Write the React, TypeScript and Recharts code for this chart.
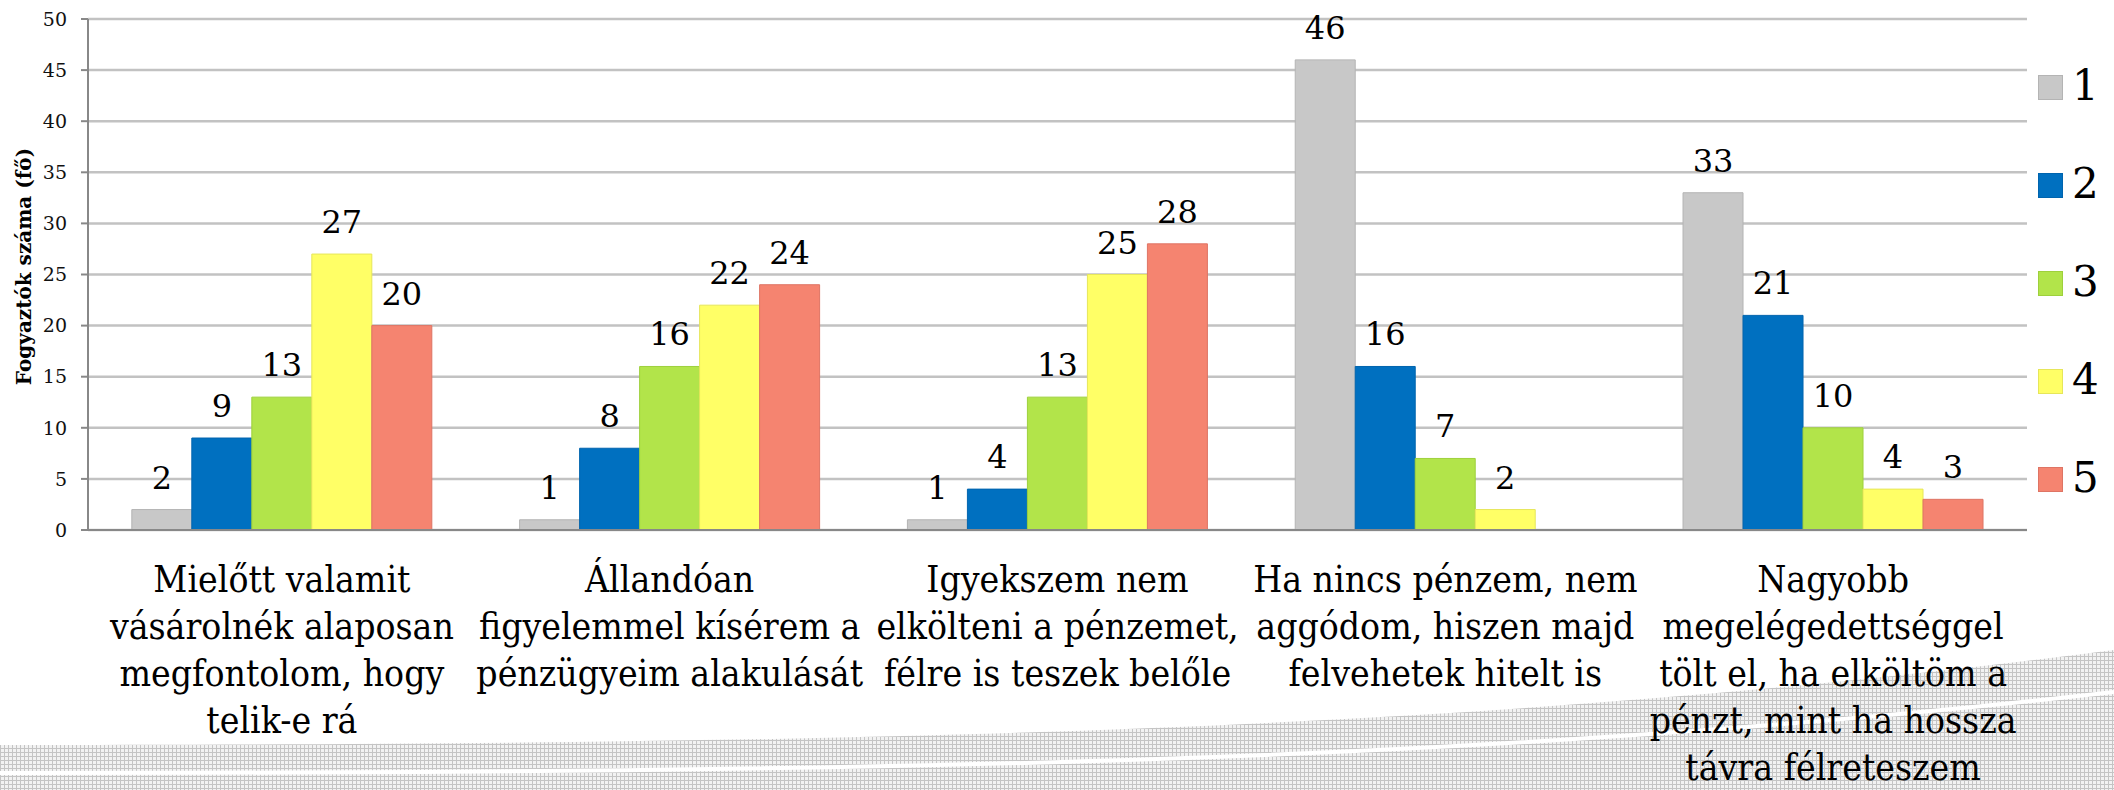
import React from 'react';
import { BarChart, Bar, XAxis, YAxis, CartesianGrid, LabelList } from 'recharts';

const categories: string[] = [
  'Mielőtt valamit\nvásárolnék alaposan\nmegfontolom, hogy\ntelik-e rá',
  'Állandóan\nfigyelemmel kísérem a\npénzügyeim alakulását',
  'Igyekszem nem\nelkölteni a pénzemet,\nfélre is teszek belőle',
  'Ha nincs pénzem, nem\naggódom, hiszen majd\nfelvehetek hitelt is',
  'Nagyobb\nmegelégedettséggel\ntölt el, ha elköltöm a\npénzt, mint ha hossza\ntávra félreteszem',
];

const series1: number[] = [2, 1, 1, 46, 33];
const series2: number[] = [9, 8, 4, 16, 21];
const series3: number[] = [13, 16, 13, 7, 10];
const series4: number[] = [27, 22, 25, 2, 4];
const series5: number[] = [20, 24, 28, 0, 3];

const seriesNames: string[] = ['1', '2', '3', '4', '5'];
const seriesKeys: string[] = ['s1', 's2', 's3', 's4', 's5'];
const seriesColors: string[] = ['#C8C8C8', '#0070C0', '#B2E44A', '#FFFF66', '#F58470'];
const seriesStrokes: string[] = ['#B4B4B4', '#0064AE', '#9ED03C', '#E6E65A', '#DE7464'];

const yTicks: number[] = [0, 5, 10, 15, 20, 25, 30, 35, 40, 45, 50];
const yTitle = 'Fogyaztók száma (fő)';

const data = categories.map((name, i) => ({
  name,
  s1: series1[i],
  s2: series2[i],
  s3: series3[i],
  s4: series4[i],
  s5: series5[i],
}));

const SERIF = "'DejaVu Serif'";
const SERIF_COND = "'DejaVu Serif Condensed', 'DejaVu Serif'";

const XTick = (props: any) => {
  const { x, y, payload } = props;
  const lines = String(payload.value).split('\n');
  return (
    <g>
      <text
        x={x}
        y={y}
        textAnchor="middle"
        fontFamily={SERIF_COND}
        style={{ fontStretch: 'condensed' }}
        fontSize={37}
        fill="#000"
      >
        {lines.map((ln, i) => (
          <tspan key={i} x={x} y={y + 62 + i * 47}>
            {ln}
          </tspan>
        ))}
      </text>
    </g>
  );
};

const YTitle = (props: any) => {
  const vb = props.viewBox || { x: 0, y: 19, width: 88, height: 511 };
  const cx = vb.x + 24;
  const cy = vb.y + vb.height / 2 - 8;
  return (
    <text
      x={cx}
      y={cy}
      transform={`rotate(-90 ${cx} ${cy})`}
      textAnchor="middle"
      dominantBaseline="central"
      fontFamily={SERIF}
      fontWeight="bold"
      fontSize={20}
      fill="#000"
    >
      {yTitle}
    </text>
  );
};

const labelFormatter = (v: any) => (v === 0 || v === null || v === undefined ? '' : v);

const Background = () => (
  <svg width={2114} height={790} style={{ position: 'absolute', left: 0, top: 0 }}>
    <defs>
      <pattern id="dots" width="4" height="4" patternUnits="userSpaceOnUse">
        <rect x="0" y="0" width="4" height="4" fill="#f2f2f2" />
        <rect x="0" y="0" width="4" height="1" fill="#c4c4c4" />
        <rect x="0" y="0" width="1" height="4" fill="#c4c4c4" />
      </pattern>
    </defs>
    <rect x="0" y="0" width="2114" height="790" fill="#ffffff" />
    <path d="M0,745 C900,745 1500,730 2114,650 L2114,790 L0,790 Z" fill="url(#dots)" />
    <path d="M0,773 C900,773 1500,762 2114,692" fill="none" stroke="#ffffff" strokeWidth={4} />
  </svg>
);

const LegendBox = () => (
  <div style={{ position: 'absolute', left: 2038, top: 38, width: 76 }}>
    {seriesNames.map((n, i) => (
      <div key={n} style={{ position: 'relative', height: 98 }}>
        <div
          style={{
            position: 'absolute',
            left: 0,
            top: 37,
            width: 23,
            height: 23,
            background: seriesColors[i],
            border: `1px solid ${seriesStrokes[i]}`,
          }}
        />
        <div
          style={{
            position: 'absolute',
            left: 34,
            top: 20,
            fontFamily: SERIF,
            fontSize: 42,
            lineHeight: '56px',
            color: '#000',
          }}
        >
          {n}
        </div>
      </div>
    ))}
  </div>
);

export default function App() {
  return (
    <div style={{ position: 'absolute', left: 0, top: 0, width: 2114, height: 790, overflow: 'hidden', background: '#fff' }}>
      <Background />
      <div style={{ position: 'absolute', left: 0, top: 0 }}>
        <BarChart
          width={2114}
          height={790}
          data={data}
          margin={{ top: 19, right: 87, bottom: 0, left: 0 }}
          barCategoryGap="11.3%"
          barGap={0}
        >
          <CartesianGrid horizontal vertical={false} stroke="#c2c2c2" strokeWidth={2.5} />
          <XAxis
            dataKey="name"
            height={260}
            interval={0}
            tickLine={false}
            tickSize={0}
            tickMargin={0}
            tick={<XTick />}
            axisLine={{ stroke: '#888888', strokeWidth: 2 }}
          />
          <YAxis
            width={88}
            domain={[0, 50]}
            ticks={yTicks}
            interval={0}
            tickSize={7}
            tickMargin={14}
            tick={{ fontFamily: SERIF, fontSize: 19, fill: '#111' }}
            axisLine={{ stroke: '#888888', strokeWidth: 2 }}
            tickLine={{ stroke: '#888888', strokeWidth: 2 }}
            label={YTitle}
          />
          {seriesKeys.map((k, i) => (
            <Bar
              key={k}
              dataKey={k}
              name={seriesNames[i]}
              fill={seriesColors[i]}
              stroke={seriesStrokes[i]}
              strokeWidth={1}
              isAnimationActive={false}
            >
              <LabelList
                dataKey={k}
                position="top"
                offset={21}
                formatter={labelFormatter}
                fontFamily={SERIF}
                fontSize={32}
                fill="#000"
              />
            </Bar>
          ))}
        </BarChart>
      </div>
      <LegendBox />
    </div>
  );
}
